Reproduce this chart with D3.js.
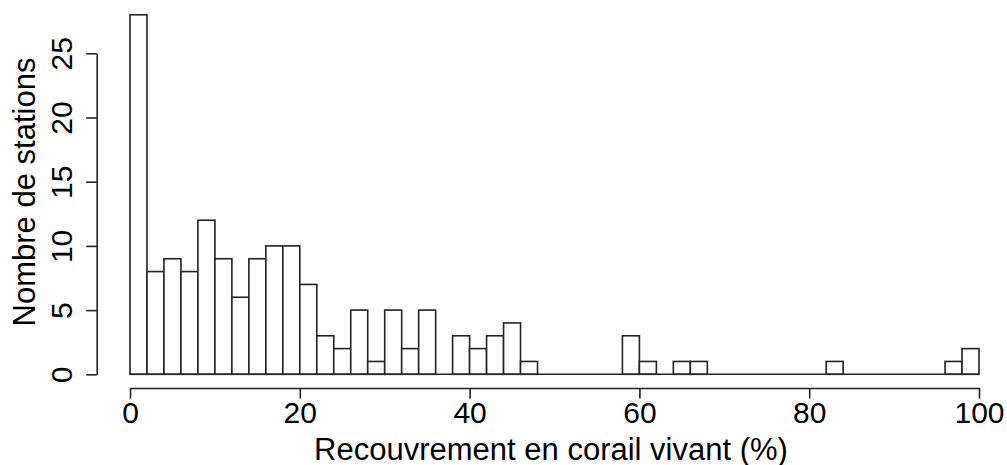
<!DOCTYPE html>
<html>
<head>
<meta charset="utf-8">
<script src="https://cdn.jsdelivr.net/npm/d3@7"></script>
<style>
  body { margin: 0; background: #fff; }
  svg { display: block; font-family: "Liberation Sans", Arial, sans-serif; }
</style>
</head>
<body>
<svg></svg>
<script>
// histogram: bins of width 2 from 0 to 100
let binWidth = 2
let counts = [28, 8, 9, 8, 12, 9, 6, 9, 10, 10,
              7, 3, 2, 5, 1, 5, 2, 5, 0, 3,
              2, 3, 4, 1, 0, 0, 0, 0, 0, 3,
              1, 0, 1, 1, 0, 0, 0, 0, 0, 0,
              0, 1, 0, 0, 0, 0, 0, 0, 1, 2]
let xTicks = [0, 20, 40, 60, 80, 100]
let yTicks = [0, 5, 10, 15, 20, 25]
let xTitle = 'Recouvrement en corail vivant (%)'
let yTitle = 'Nombre de stations'

let width = 1007
let height = 465
let stroke = '#222'

let svg = d3.select('svg')
svg.attr('width', width)
svg.attr('height', height)

let xScale = d3.scaleLinear().domain([0, 100]).range([130, 979])
let yScale = d3.scaleLinear().domain([0, 25]).range([374.3, 53.3])

let bins = counts.map((c, i) => ({ x0: i * binWidth, x1: (i + 1) * binWidth, count: c }))

// bars
svg.selectAll('rect.bar')
   .data(bins)
   .enter()
   .append('rect')
   .attr('class', 'bar')
   .attr('x', d => xScale(d.x0))
   .attr('width', d => xScale(d.x1) - xScale(d.x0))
   .attr('y', d => yScale(d.count))
   .attr('height', d => yScale(0) - yScale(d.count))
   .attr('fill', 'white')
   .attr('stroke', stroke)
   .attr('stroke-width', 1.6)

// zero-height bins still show as a line along the base
svg.append('line')
   .attr('x1', xScale(0)).attr('x2', xScale(100))
   .attr('y1', yScale(0)).attr('y2', yScale(0))
   .attr('stroke', stroke)
   .attr('stroke-width', 1.6)

// x axis
let xAxis = d3.axisBottom(xScale).tickValues(xTicks).tickSize(10.5).tickSizeOuter(0).tickPadding(3)
let gx = svg.append('g')
   .attr('id', 'x-axis')
   .attr('transform', 'translate(0, 388)')
   .call(xAxis)
gx.select('.domain').attr('stroke', stroke).attr('stroke-width', 1.6)
gx.selectAll('.tick line').attr('stroke', stroke).attr('stroke-width', 1.6)
gx.selectAll('.tick text')
  .attr('fill', '#000')
  .attr('font-size', 30)
  .attr('y', 34.5)
  .attr('dy', null)

// y axis
let yAxis = d3.axisLeft(yScale).tickValues(yTicks).tickSize(10.5).tickSizeOuter(0)
let gy = svg.append('g')
   .attr('id', 'y-axis')
   .attr('transform', 'translate(96.7, 0)')
   .call(yAxis)
gy.select('.domain').attr('stroke', stroke).attr('stroke-width', 1.6)
gy.selectAll('.tick line').attr('stroke', stroke).attr('stroke-width', 1.6)
gy.selectAll('.tick text')
  .attr('fill', '#000')
  .attr('font-size', 30)
  .attr('x', null)
  .attr('dy', null)
  .attr('text-anchor', 'middle')
  .attr('transform', 'translate(-25, 0) rotate(-90)')

// titles
svg.append('text')
   .attr('x', 551)
   .attr('y', 459.5)
   .attr('text-anchor', 'middle')
   .attr('font-size', 31)
   .text(xTitle)

svg.append('text')
   .attr('transform', 'translate(35, 192) rotate(-90)')
   .attr('text-anchor', 'middle')
   .attr('font-size', 31)
   .text(yTitle)
</script>
</body>
</html>
